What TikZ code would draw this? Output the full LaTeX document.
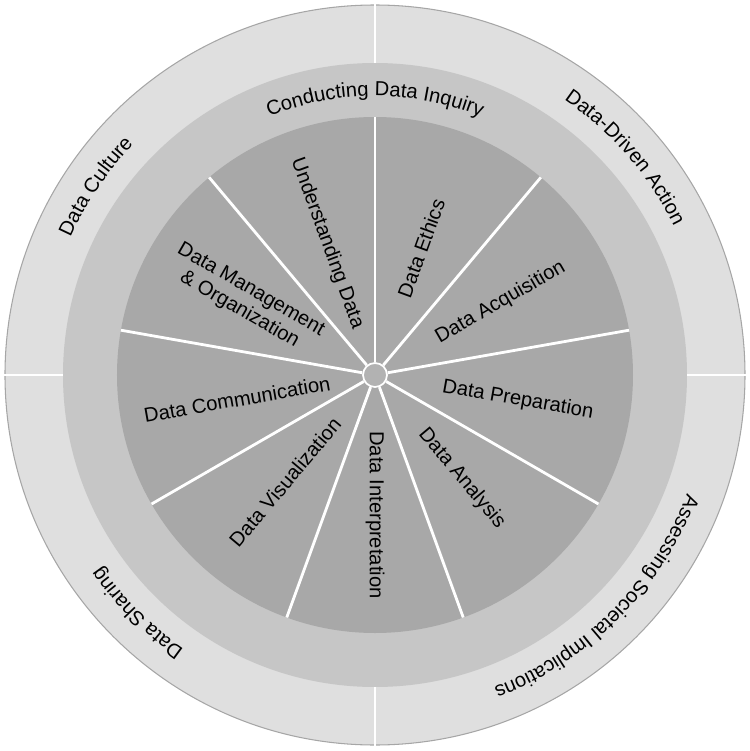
\documentclass[tikz,border=0pt]{standalone}
\usepackage{fontspec}
\setmainfont{Liberation Sans}
\usetikzlibrary{decorations.text}
\newcommand{\ringlabel}[3]{%
  \path[decorate,decoration={text along path,text align=center,
    text={|\fontsize{11.5}{13}\selectfont|#3}}]
    (#2+70:#1) arc[start angle=#2+70,end angle=#2-70,radius=#1];}
\begin{document}
\begin{tikzpicture}[x=0.02cm,y=0.02cm,
  sector label/.style={font=\fontsize{11.5}{13}\selectfont,align=center,inner sep=0pt},
  split/.style={draw=white,line width=1.6pt}]

  \useasboundingbox (-375,-376) rectangle (375,375);
  \fill[gray!25,draw=gray!70,line width=0.6pt] (0,0) circle[radius=370];
  \fill[gray!45] (0,0) circle[radius=312];
  \fill[gray!68] (0,0) circle[radius=258];

  % outer ring split
  \foreach \a in {0,90,180,270}
    \draw[split] (\a:312) -- (\a:371);

  % inner sectors
  \node[circle,fill=gray!60,draw=white,line width=1pt,minimum size=0.48cm] (hub) at (0,0) {};
  \foreach \a [count=\i] in {90,50,10,-30,-70,-110,-150,170,130} {
    \coordinate (rim\i) at (\a:258);
    \draw[split] (hub) -- (rim\i);
  }

  \node[sector label,rotate=-70] (understanding) at (110:140) {Understanding Data};
  \node[sector label,rotate=70] (ethics) at (70:135) {Data Ethics};
  \node[sector label,rotate=30] (acquisition) at (30:145) {Data Acquisition};
  \node[sector label,rotate=-10] (preparation) at (-10:145) {Data Preparation};
  \node[sector label,rotate=-50] (analysis) at (-50:135) {Data Analysis};
  \node[sector label,rotate=-90] (interpretation) at (-90:140) {Data Interpretation};
  \node[sector label,rotate=50] (visualization) at (-130:140) {Data Visualization};
  \node[sector label,rotate=10] (communication) at (-170:140) {Data Communication};
  \node[sector label,rotate=-30] (management) at (150:150) {Data Management\\\& Organization};

  % ring texts
  \ringlabel{279}{90}{Conducting Data Inquiry}
  \ringlabel{334}{146}{Data Culture}
  \ringlabel{334}{41}{Data-Driven Action}
  \ringlabel{334}{-45}{Assessing Societal Implications}
  \ringlabel{334}{-135}{Data Sharing}
\end{tikzpicture}
\end{document}
